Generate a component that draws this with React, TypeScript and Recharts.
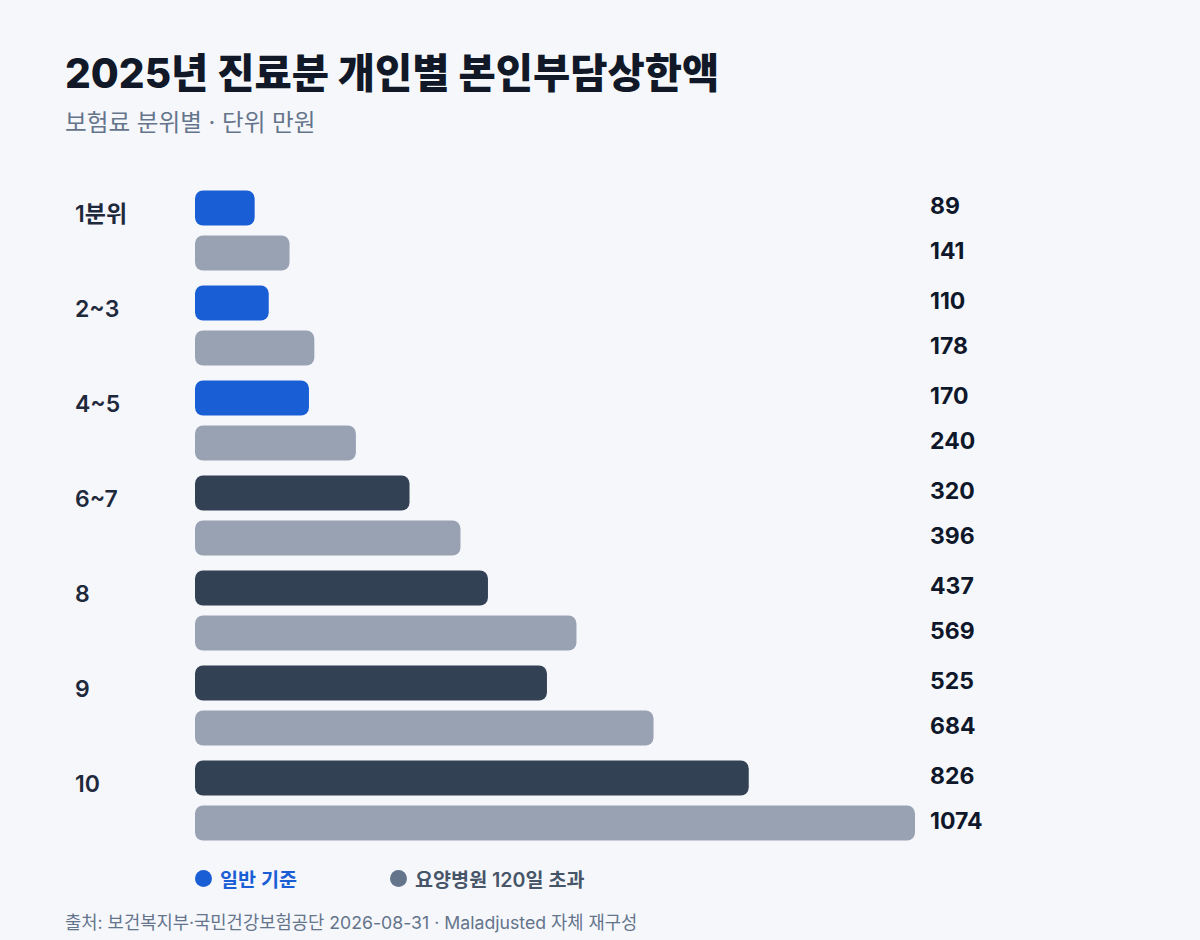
import React from "react";
import { BarChart, Bar, XAxis, YAxis, Cell, LabelList } from "recharts";

const groups = ["1분위", "2~3", "4~5", "6~7", "8", "9", "10"];
const generalValues = [89, 110, 170, 320, 437, 525, 826];
const nursingValues = [141, 178, 240, 396, 569, 684, 1074];
const highlighted = [true, true, true, false, false, false, false];

const data = groups.map((g, i) => ({
  group: g,
  general: generalValues[i],
  nursing: nursingValues[i],
  hi: highlighted[i],
}));

const FONT = "Inter, 'Noto Sans CJK KR', 'Noto Sans', sans-serif";
const BG = "#f6f7fb";
const BLUE = "#1a5ed6";
const DARK = "#334155";
const GRAY = "#98a2b3";

const W = 1200;
const H = 940;
const M = { top: 182.5, right: 285, bottom: 92.5, left: 65 };
const Y_AXIS_W = 130;
const PLOT_RIGHT = W - M.right;
const LABEL_X = PLOT_RIGHT + 15;

const ValueLabel = (props: any) => {
  const { y, height, value } = props;
  return (
    <text
      x={LABEL_X}
      y={Number(y) + Number(height) / 2 - 2.5}
      dominantBaseline="central"
      textAnchor="start"
      fontFamily={FONT}
      fontSize={23}
      fontWeight={700}
      fill="#0f172a"
    >
      {value}
    </text>
  );
};

const GroupTick = (props: any) => {
  const { x, y, payload, width } = props;
  return (
    <text
      x={Number(x) - Number(width) + 8 + 10}
      y={Number(y) - 16}
      dominantBaseline="central"
      textAnchor="start"
      fontFamily={FONT}
      fontSize={23}
      fontWeight={600}
      fill="#1e293b"
    >
      {payload.value}
    </text>
  );
};

export default function App() {
  return (
    <div
      style={{
        position: "absolute",
        left: 0,
        top: 0,
        width: W,
        height: H,
        background: BG,
        fontFamily: FONT,
        overflow: "hidden",
      }}
    >
      <div
        style={{
          position: "absolute",
          left: 65,
          top: 41,
          fontSize: 40.5,
          fontWeight: 800,
          color: "#111827",
          whiteSpace: "nowrap",
        }}
      >
        2025년 진료분 개인별 본인부담상한액
      </div>
      <div
        style={{
          position: "absolute",
          left: 65,
          top: 104,
          fontSize: 23.6,
          color: "#64748b",
          whiteSpace: "nowrap",
        }}
      >
        보험료 분위별 · 단위 만원
      </div>
      <div style={{ position: "absolute", left: 0, top: 0 }}>
        <BarChart
          width={W}
          height={H}
          data={data}
          layout="vertical"
          margin={M}
          barGap={10}
          barSize={35}
        >
          <XAxis type="number" domain={[0, 1074]} hide />
          <YAxis
            type="category"
            dataKey="group"
            width={Y_AXIS_W}
            axisLine={false}
            tickLine={false}
            tick={<GroupTick />}
            interval={0}
          />
          <Bar dataKey="general" radius={8} isAnimationActive={false}>
            {data.map((d, i) => (
              <Cell key={i} fill={d.hi ? BLUE : DARK} />
            ))}
            <LabelList dataKey="general" content={<ValueLabel />} />
          </Bar>
          <Bar dataKey="nursing" fill={GRAY} radius={8} isAnimationActive={false}>
            <LabelList dataKey="nursing" content={<ValueLabel />} />
          </Bar>
        </BarChart>
      </div>
      <div
        style={{
          position: "absolute",
          left: 195,
          top: 864,
          display: "flex",
          alignItems: "center",
          fontSize: 19.6,
          fontWeight: 600,
          whiteSpace: "nowrap",
        }}
      >
        <span
          style={{
            display: "inline-block",
            width: 17,
            height: 17,
            borderRadius: "50%",
            background: BLUE,
            marginRight: 8,
          }}
        />
        <span style={{ color: BLUE }}>일반 기준</span>
        <span
          style={{
            display: "inline-block",
            width: 17,
            height: 17,
            borderRadius: "50%",
            background: "#64748b",
            marginLeft: 93,
            marginRight: 8,
          }}
        />
        <span style={{ color: "#475569" }}>요양병원 120일 초과</span>
      </div>
      <div
        style={{
          position: "absolute",
          left: 65,
          top: 908,
          fontSize: 17.7,
          color: "#64748b",
          whiteSpace: "nowrap",
        }}
      >
        출처: 보건복지부·국민건강보험공단 2026-08-31 · Maladjusted 자체 재구성
      </div>
    </div>
  );
}
